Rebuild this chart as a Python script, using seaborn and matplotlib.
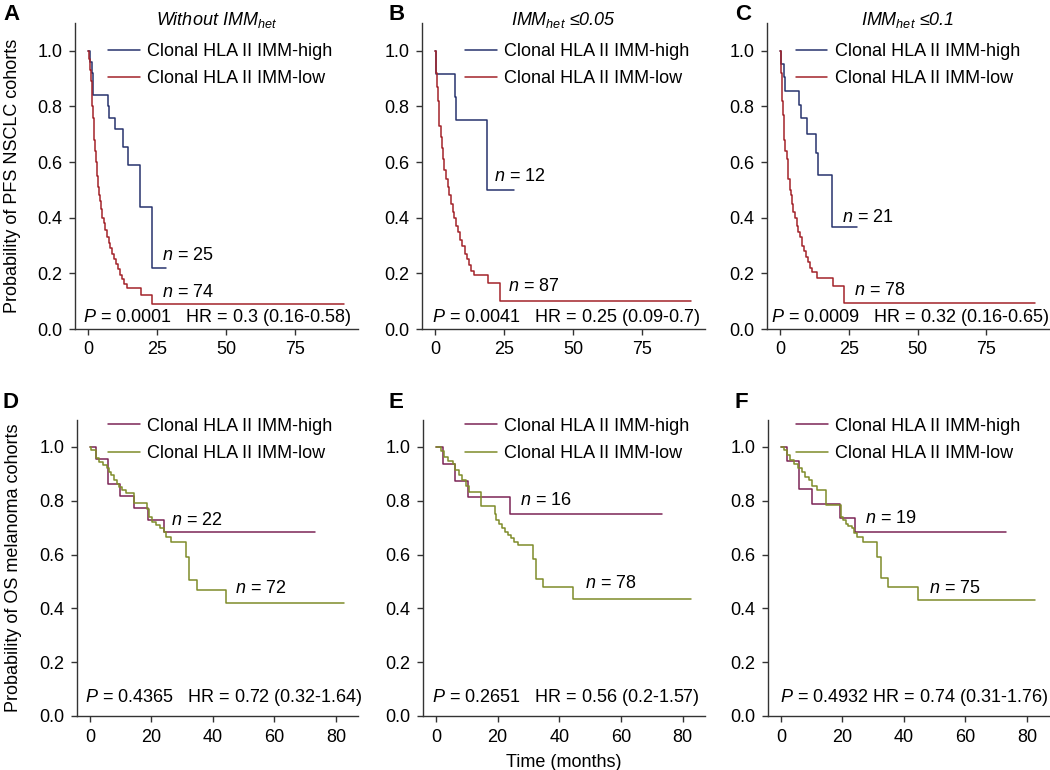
import matplotlib
matplotlib.use("Agg")
import matplotlib.pyplot as plt
import seaborn as sns

sns.set_theme(style="ticks")
plt.rcParams["font.family"] = ["Liberation Sans", "DejaVu Sans"]
plt.rcParams["mathtext.fontset"] = "custom"
plt.rcParams["mathtext.rm"] = "Liberation Sans"
plt.rcParams["mathtext.it"] = "Liberation Sans:italic"
plt.rcParams["mathtext.bf"] = "Liberation Sans:bold"
plt.rcParams["text.color"] = "black"
plt.rcParams["axes.labelcolor"] = "black"

BLUE = "#27336e"
RED = "#a3232a"
PURPLE = "#7c2456"
GREEN = "#7f8c29"
INK = "#333333"

HIGH_LABEL = "Clonal HLA II IMM-high"
LOW_LABEL = "Clonal HLA II IMM-low"

# ---- PFS, NSCLC cohorts (top row) ----
a_high_t = [0, 0.6, 1.45, 1.8, 7.2, 7.6, 9.7, 12.7, 14.5, 18.7, 23.2, 28.4]
a_high_s = [1.0, 0.96, 0.92, 0.84, 0.80, 0.76, 0.72, 0.655, 0.59, 0.44, 0.22, 0.22]
a_low_t = [0, 0.5, 0.8, 1.0, 1.3, 1.6, 1.9, 2.1, 2.3, 2.6, 2.9, 3.2, 3.5, 3.9, 4.3, 4.8,
           5.2, 5.7, 6.3, 6.9, 7.5, 8.1, 8.7, 9.4, 10.0, 10.8, 11.5, 12.2, 13.0, 14.0,
           19.1, 23.3, 92.5]
a_low_s = [1.0, 0.97, 0.93, 0.89, 0.85, 0.80, 0.76, 0.72, 0.68, 0.64, 0.60, 0.55, 0.51, 0.48,
           0.46, 0.43, 0.40, 0.38, 0.355, 0.33, 0.31, 0.29, 0.27, 0.25, 0.235, 0.215, 0.195,
           0.18, 0.163, 0.148, 0.124, 0.091, 0.091]

b_high_t = [0, 0.5, 7.1, 7.5, 19.0, 28.6]
b_high_s = [1.0, 0.917, 0.833, 0.75, 0.5, 0.5]
b_low_t = [0, 0.3, 0.5, 0.8, 1.0, 1.3, 1.6, 2.0, 2.4, 2.9, 3.4, 4.0, 4.6, 5.2, 5.8, 6.4,
           7.0, 7.7, 8.4, 9.1, 9.9, 10.7, 11.5, 12.3, 13.2, 14.0, 19.3, 23.4, 92.7]
b_low_s = [1.0, 0.96, 0.92, 0.87, 0.82, 0.77, 0.73, 0.69, 0.65, 0.61, 0.57, 0.54, 0.51, 0.48,
           0.45, 0.42, 0.40, 0.37, 0.35, 0.32, 0.30, 0.27, 0.25, 0.23, 0.21, 0.195, 0.166,
           0.10, 0.10]

c_high_t = [0, 0.5, 1.3, 1.9, 7.0, 7.6, 9.8, 13.0, 14.0, 18.8, 28.1]
c_high_s = [1.0, 0.952, 0.905, 0.857, 0.805, 0.757, 0.70, 0.633, 0.552, 0.368, 0.368]
c_low_t = [0, 0.3, 0.5, 0.7, 0.9, 1.1, 1.3, 1.6, 2.0, 2.4, 2.8, 3.1, 3.5, 3.9, 4.4, 4.9,
           5.5, 6.1, 6.7, 7.3, 7.9, 8.6, 9.3, 10.1, 10.9, 11.8, 13.3, 19.1, 23.4, 92.5]
c_low_s = [1.0, 0.96, 0.92, 0.87, 0.82, 0.77, 0.72, 0.68, 0.64, 0.61, 0.58, 0.54, 0.50, 0.48,
           0.45, 0.42, 0.40, 0.37, 0.35, 0.33, 0.30, 0.28, 0.26, 0.24, 0.22, 0.205, 0.185,
           0.156, 0.094, 0.094]

# ---- OS, melanoma cohorts (bottom row) ----
d_high_t = [0, 1.9, 5.9, 9.9, 14.3, 18.9, 24.1, 73.3]
d_high_s = [1.0, 0.955, 0.864, 0.818, 0.773, 0.727, 0.682, 0.682]
d_low_t = [0, 0.5, 1.9, 3.0, 4.1, 5.4, 6.3, 7.0, 7.9, 8.7, 9.5, 10.3, 11.9, 14.3, 18.6, 19.2,
           20.3, 21.6, 22.7, 24.1, 24.9, 26.3, 31.3, 32.2, 34.9, 44.3, 82.7]
d_low_s = [1.0, 0.988, 0.957, 0.944, 0.932, 0.923, 0.907, 0.895, 0.876, 0.864, 0.851, 0.839,
           0.830, 0.790, 0.771, 0.740, 0.722, 0.709, 0.697, 0.684, 0.666, 0.647, 0.592, 0.507,
           0.470, 0.421, 0.421]

e_high_t = [0, 2.2, 6.1, 10.5, 24.0, 73.3]
e_high_s = [1.0, 0.9375, 0.875, 0.8125, 0.75, 0.75]
e_low_t = [0, 1.6, 2.5, 3.8, 5.4, 6.1, 7.5, 8.6, 9.7, 10.8, 14.6, 19.2, 19.6, 20.5, 21.3, 22.3,
           23.2, 24.3, 25.3, 26.7, 31.3, 32.3, 34.8, 44.4, 82.8]
e_low_s = [1.0, 0.985, 0.963, 0.947, 0.936, 0.916, 0.895, 0.876, 0.854, 0.833, 0.780, 0.752,
           0.728, 0.712, 0.699, 0.684, 0.672, 0.660, 0.647, 0.637, 0.585, 0.509, 0.478, 0.434,
           0.434]

f_high_t = [0, 1.9, 6.0, 10.0, 19.2, 24.1, 73.2]
f_high_s = [1.0, 0.947, 0.842, 0.789, 0.737, 0.684, 0.684]
f_low_t = [0, 0.9, 1.9, 2.8, 4.1, 5.7, 6.8, 7.9, 9.0, 10.0, 11.9, 14.7, 19.5, 20.3, 21.2, 21.9,
           23.0, 23.9, 24.6, 26.6, 31.1, 32.7, 34.9, 44.6, 82.7]
f_low_s = [1.0, 0.988, 0.969, 0.950, 0.936, 0.923, 0.907, 0.889, 0.876, 0.854, 0.839, 0.783,
           0.740, 0.728, 0.715, 0.707, 0.697, 0.681, 0.666, 0.645, 0.592, 0.511, 0.478, 0.431,
           0.431]

n_high = [25, 12, 21, 22, 16, 19]
n_low = [74, 87, 78, 72, 78, 75]
stats = [
    "$P$ = 0.0001   HR = 0.3 (0.16-0.58)",
    "$P$ = 0.0041   HR = 0.25 (0.09-0.7)",
    "$P$ = 0.0009   HR = 0.32 (0.16-0.65)",
    "$P$ = 0.4365   HR = 0.72 (0.32-1.64)",
    "$P$ = 0.2651   HR = 0.56 (0.2-1.57)",
    "$P$ = 0.4932 HR = 0.74 (0.31-1.76)",
]
letters = ["A", "B", "C", "D", "E", "F"]
titles = ["Without $IMM_{het}$", r"$IMM_{het}$ ≤0.05", r"$IMM_{het}$ ≤0.1", "", "", ""]

curves = [
    (a_high_t, a_high_s, a_low_t, a_low_s),
    (b_high_t, b_high_s, b_low_t, b_low_s),
    (c_high_t, c_high_s, c_low_t, c_low_s),
    (d_high_t, d_high_s, d_low_t, d_low_s),
    (e_high_t, e_high_s, e_low_t, e_low_s),
    (f_high_t, f_high_s, f_low_t, f_low_s),
]

# layout: axes rect in pixels (left, right, top, bottom) of a 1050x770 canvas
W, H = 1050, 770
rects_px = [(75, 358, 23, 329), (422, 705, 23, 329), (767, 1049, 23, 329),
            (77, 358, 420, 716), (423, 705, 420, 716), (768, 1049, 420, 716)]
legend_x = [0.117, 0.152, 0.102, 0.111, 0.149, 0.100]
# where the "n = .." labels sit (data coords)
n_high_xy = [(26.7, 0.264), (21.3, 0.549), (22.6, 0.40), (26.5, 0.728), (27.4, 0.80), (27.4, 0.734)]
n_low_xy = [(26.7, 0.13), (26.3, 0.152), (26.9, 0.137), (47.1, 0.475), (48.2, 0.493), (48.1, 0.474)]
stats_x = [0.503, 0.509, 0.507, 0.523, 0.505, 0.52]
letter_px = [(3, 4), (389, 4), (735, 4), (3, 392), (389, 392), (735, 392)]

FS = 13

fig = plt.figure(figsize=(10.5, 7.7), dpi=100)

for i in range(6):
    l, r, t, b = rects_px[i]
    ax = fig.add_axes([l / W, 1 - b / H, (r - l) / W, (b - t) / H])
    top = i < 3
    hi_col, lo_col = (BLUE, RED) if top else (PURPLE, GREEN)
    ht, hs, lt, ls = curves[i]

    sns.lineplot(x=ht, y=hs, ax=ax, color=hi_col, linewidth=1.1, drawstyle="steps-post",
                 estimator=None, sort=False, label=HIGH_LABEL)
    sns.lineplot(x=lt, y=ls, ax=ax, color=lo_col, linewidth=1.1, drawstyle="steps-post",
                 estimator=None, sort=False, label=LOW_LABEL)

    if top:
        ax.set_xlim(-4.7, 97.7)
        ax.set_xticks([0, 25, 50, 75])
    else:
        ax.set_xlim(-4.2, 87.2)
        ax.set_xticks([0, 20, 40, 60, 80])
    ax.set_ylim(0, 1.1)
    ax.set_yticks([0, 0.2, 0.4, 0.6, 0.8, 1.0])
    ax.set_yticklabels(["0.0", "0.2", "0.4", "0.6", "0.8", "1.0"])

    sns.despine(ax=ax)
    for side in ["left", "bottom"]:
        ax.spines[side].set_color(INK)
        ax.spines[side].set_linewidth(1.0)
    ax.tick_params(direction="out", length=4, width=1.0, color=INK, labelsize=FS,
                   labelcolor="black", pad=5)

    ax.legend(loc="upper left", bbox_to_anchor=(legend_x[i], 0.935 if top else 1.008),
              frameon=False, fontsize=FS, handlelength=1.75, handletextpad=0.4,
              borderpad=0, borderaxespad=0, labelspacing=0.58)

    ax.text(*n_high_xy[i], f"$n$ = {n_high[i]}", fontsize=FS, va="center", ha="left")
    ax.text(*n_low_xy[i], f"$n$ = {n_low[i]}", fontsize=FS, va="center", ha="left")
    ax.text(stats_x[i], 0.036 if top else 0.064, stats[i], transform=ax.transAxes,
            fontsize=FS, ha="center", va="center")

    if titles[i]:
        ax.text(0.5, 0.993, titles[i], transform=ax.transAxes, fontsize=FS,
                style="italic", ha="center", va="baseline")

    ax.set_xlabel("")
    ax.set_ylabel("")
    if i == 0:
        ax.set_ylabel("Probability of PFS NSCLC cohorts", fontsize=FS)
        ax.yaxis.set_label_coords(-0.19, 0.5)
    if i == 3:
        ax.set_ylabel("Probability of OS melanoma cohorts", fontsize=FS)
        ax.yaxis.set_label_coords(-0.197, 0.5)
    if i == 4:
        ax.set_xlabel("Time (months)", fontsize=FS, labelpad=6)

    lx, ly = letter_px[i]
    fig.text(lx / W, 1 - ly / H, letters[i], fontsize=16, fontweight="bold",
             ha="left", va="top")

fig.savefig("out.png", dpi=100)
